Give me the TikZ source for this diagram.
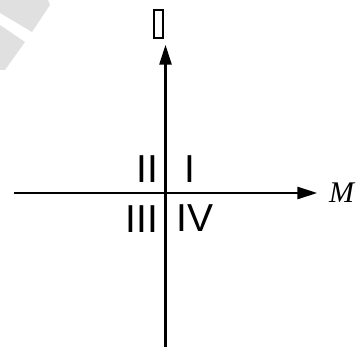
\documentclass[tikz,border=0pt]{standalone}
\usepackage{fontspec}
\setmainfont{Liberation Serif}
\newfontfamily\numfont{Liberation Sans}
\usetikzlibrary{arrows.meta}
\tikzset{
  axis/.style={line width=2.6pt, -{Triangle[length=20pt,width=12pt]}},
  quad/.style={inner sep=0pt, font=\numfont\fontsize{39}{39}\selectfont},
  wmark/.style={fill=black!12, draw=none},
}
\begin{document}
\begin{tikzpicture}[x=1pt,y=-1pt]
\useasboundingbox (0,0) rectangle (357,347);
% faint watermark fragments
\fill[wmark] (0,0) -- (48,0) -- (50,5) -- (32,32) -- (0,13) -- cycle;
\fill[wmark] (0,25) -- (25,42) -- (5,70) -- (0,70) -- cycle;
% axes
\coordinate (hstart) at (14,193);
\node[inner sep=0pt] (hend) at (318,193) {};
\coordinate (vstart) at (165.5,347);
\node[inner sep=0pt] (vend) at (165.5,44) {};
\draw[axis] (hstart) -- (hend);
\draw[axis] (vstart) -- (vend);
% labels
\node[draw, line width=1.8pt, minimum width=9pt, minimum height=28pt, inner sep=0pt] (ylab) at (158.5,24) {};
\node[inner sep=0pt, anchor=base, font=\itshape\fontsize{30}{30}\selectfont] (mlab) at (341.5,203) {M};
\node[quad, anchor=base east] (q2) at (158.6,183) {II};
\node[quad, anchor=base west] (q1) at (184.4,183) {I};
\node[quad, anchor=base east] (q3) at (158.6,233) {III};
\node[quad, anchor=base west] (q4) at (176.4,232) {IV};
\end{tikzpicture}
\end{document}
